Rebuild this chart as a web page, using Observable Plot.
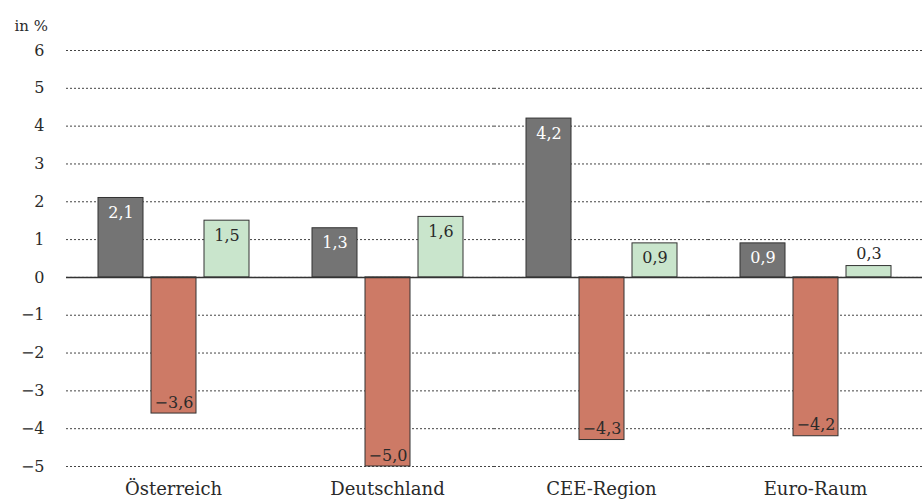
<!DOCTYPE html>
<html>
<head>
<meta charset="utf-8">
<script src="https://cdn.jsdelivr.net/npm/d3@7"></script>
<script src="https://cdn.jsdelivr.net/npm/@observablehq/plot@0.6"></script>
<style>
  html, body { margin: 0; padding: 0; background: #fff; }
  svg { display: block; }
</style>
</head>
<body>
<div id="chart"></div>
<script>
const groups = ["Österreich", "Deutschland", "CEE-Region", "Euro-Raum"];
const seriesKeys = ["A", "B", "C"];
const seriesA = [2.1, 1.3, 4.2, 0.9];
const seriesB = [-3.6, -5.0, -4.3, -4.2];
const seriesC = [1.5, 1.6, 0.9, 0.3];
const yTicks = [-5, -4, -3, -2, -1, 0, 1, 2, 3, 4, 5, 6];

const seriesValues = [seriesA, seriesB, seriesC];
const colors = ["#747474", "#cd7a66", "#c9e5cc"];
const data = [];
groups.forEach((g, i) => seriesKeys.forEach((s, j) => data.push({group: g, series: s, value: seriesValues[j][i]})));

const fmt = d => d.toFixed(1).replace(".", ",").replace("-", "\u2212");
const tickFmt = d => String(d).replace("-", "\u2212");
const font = "DejaVu Serif";

const chart = Plot.plot({
  width: 923,
  height: 501,
  marginLeft: 65,
  marginRight: 0,
  marginTop: 50,
  marginBottom: 35,
  style: {fontFamily: font, fontSize: "16px", color: "#2a2a2a", background: "#fff"},
  fx: {domain: groups, padding: 0, label: null},
  x: {domain: seriesKeys, paddingInner: 0.151, paddingOuter: 0.58, axis: null},
  y: {domain: [-5, 6], label: null},
  color: {domain: seriesKeys, range: colors},
  marks: [
    Plot.gridY(yTicks, {stroke: "#444", strokeOpacity: 1, strokeDasharray: "2,2", strokeWidth: 1}),
    Plot.barY(data, {fx: "group", x: "series", y: "value", fill: "series", stroke: "#333", strokeWidth: 1}),
    Plot.ruleY([0], {stroke: "#333", strokeWidth: 1.5}),
    Plot.text(data.filter(d => d.series === "A"), {fx: "group", x: "series", y: "value", text: d => fmt(d.value), dy: 15, fill: "#fff", fontSize: 16}),
    Plot.text(data.filter(d => d.series === "B"), {fx: "group", x: "series", y: "value", text: d => fmt(d.value), dy: -11, fill: "#2a2a2a", fontSize: 16}),
    Plot.text(data.filter(d => d.series === "C" && d.value >= 0.5), {fx: "group", x: "series", y: "value", text: d => fmt(d.value), dy: 15, fill: "#2a2a2a", fontSize: 16}),
    Plot.text(data.filter(d => d.series === "C" && d.value < 0.5), {fx: "group", x: "series", y: "value", text: d => fmt(d.value), dy: -12, fill: "#2a2a2a", fontSize: 16}),
    Plot.axisY(yTicks, {tickSize: 0, tickPadding: 22, tickFormat: tickFmt, fontSize: 16, label: null}),
    Plot.axisFx({anchor: "bottom", tickSize: 0, tickPadding: 16, fontSize: 18, label: null}),
    Plot.text(["in %"], {facet: "super", frameAnchor: "top-left", dx: -52, dy: -30, textAnchor: "start", fontSize: 15, fill: "#2a2a2a"})
  ]
});
document.getElementById("chart").appendChild(chart);
</script>
</body>
</html>
